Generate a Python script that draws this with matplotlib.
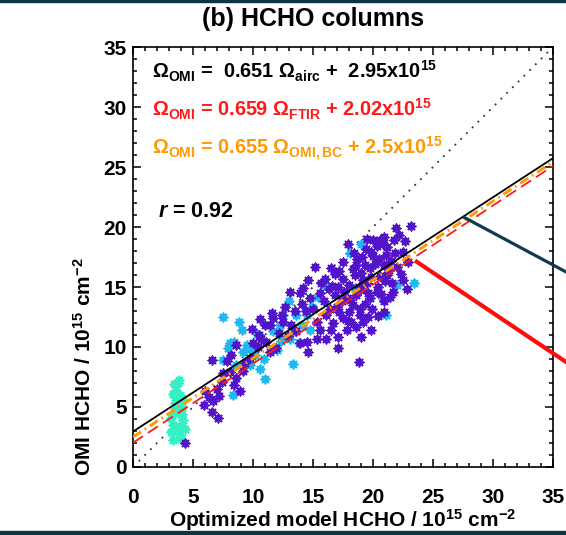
import numpy as np
import matplotlib
matplotlib.use("Agg")
import matplotlib.pyplot as plt
from matplotlib.ticker import MultipleLocator
from matplotlib.patches import Rectangle

plt.rcParams['font.family'] = ['Liberation Sans', 'DejaVu Sans']
plt.rcParams['font.weight'] = 'bold'
plt.rcParams['mathtext.fontset'] = 'custom'
plt.rcParams['mathtext.rm'] = 'Liberation Sans:bold'
plt.rcParams['mathtext.bf'] = 'Liberation Sans:bold'
plt.rcParams['mathtext.sf'] = 'Liberation Sans:bold'
plt.rcParams['mathtext.it'] = 'Liberation Sans:bold:italic'

# ---- HCHO columns (10^15 molec cm^-2): model (x) vs OMI (y) ----
purple_x = [23.2, 21.9, 20.9, 22.7, 21.75, 20.0, 19.4, 17.95, 19.1, 20.3, 21.1, 22.5, 22.9, 20.6,
            19.8, 20.5, 21.5, 22.0, 21.3, 20.2, 19.3, 18.7, 18.3, 19.0, 19.8, 20.6, 21.0, 22.3,
            22.5, 21.6, 20.4, 19.5, 18.5, 17.5, 18.6, 19.75, 20.9, 17.5, 17.1, 16.0, 16.5, 15.2,
            18.0, 18.8, 21.7, 22.8, 21.2, 22.2,
            16.8, 17.8, 18.6, 19.75, 20.9, 19.9, 18.9, 18.0, 17.5, 18.2, 19.2, 17.8, 16.7, 16.1,
            15.3, 17.0, 15.9, 14.75, 13.9, 13.1, 14.05, 12.7, 11.6, 11.4, 12.5, 13.2, 13.6, 17.4,
            18.3, 19.3, 20.3, 19.0, 17.6, 16.4, 15.6, 14.4, 20.4, 19.6, 18.6, 19.8, 16.3, 17.2,
            15.0, 14.2, 13.5, 16.8, 15.7, 14.6, 21.4, 20.9,
            14.5, 15.3, 16.1, 17.1, 17.05, 14.55, 18.97, 18.8, 10.7, 11.1, 10.4, 11.4, 9.75, 9.3,
            8.6, 8.2, 7.8, 6.55, 8.1, 8.6, 7.4, 8.9, 6.97, 6.7, 5.9, 6.55, 7.1, 6.0, 4.3, 10.0,
            10.5, 9.9, 11.0, 12.2, 12.9, 15.6, 16.5, 11.9, 9.2, 7.5, 8.4, 7.2, 6.3, 11.7, 12.4,
            10.6, 13.9,
            20.0, 21.2, 19.2, 18.1, 20.7, 21.8, 18.9, 17.2, 16.6, 19.5, 20.8, 18.4, 17.9, 19.6]
purple_y = [20.1, 19.9, 19.2, 18.8, 18.9, 18.9, 18.2, 18.55, 17.5, 18.4, 17.7, 17.9, 17.1, 18.9,
            17.9, 17.3, 17.2, 16.7, 16.4, 16.9, 16.8, 17.3, 16.5, 16.2, 15.8, 15.9, 15.5, 16.1,
            15.6, 15.3, 15.0, 15.3, 16.0, 17.1, 16.8, 16.55, 16.8, 15.7, 15.0, 15.7, 16.6, 16.7,
            15.2, 15.0, 14.6, 14.8, 18.3, 19.3,
            14.3, 14.05, 14.3, 14.05, 13.8, 13.2, 12.7, 12.9, 12.4, 12.1, 12.1, 11.4, 11.97, 12.7,
            12.1, 13.35, 13.8, 14.05, 14.5, 14.55, 13.56, 13.35, 12.8, 11.8, 12.1, 11.8, 11.3, 13.8,
            13.5, 13.6, 14.6, 14.8, 14.6, 13.2, 14.5, 13.0, 12.6, 12.5, 11.7, 11.4, 14.8, 12.9,
            13.2, 14.9, 13.0, 16.1, 15.3, 15.6, 14.2, 12.9,
            10.45, 10.7, 10.7, 10.86, 9.9, 9.6, 10.86, 8.78, 10.7, 10.45, 10.0, 9.6, 9.05, 8.65,
            10.2, 9.3, 8.8, 8.9, 7.9, 7.4, 7.1, 6.3, 6.5, 5.5, 5.2, 4.6, 4.1, 6.3, 1.98, 10.3,
            11.0, 11.5, 11.8, 11.2, 10.9, 11.4, 11.4, 9.9, 8.0, 7.8, 6.8, 5.9, 5.8, 12.4, 12.7,
            12.3, 10.3,
            17.6, 16.0, 15.6, 13.9, 14.4, 17.8, 13.2, 16.3, 15.1, 19.0, 18.6, 17.8, 12.2, 14.5]

cyan_x = [18.1, 19.0, 21.97, 23.4, 21.1, 16.0, 15.4, 13.6, 14.5, 14.05, 13.5, 13.1, 13.8, 14.75,
          12.5, 12.25, 11.7, 11.97, 13.3, 11.0, 7.5, 8.8, 9.05, 8.4, 7.9, 9.2, 9.9, 10.2, 7.5,
          10.6, 9.75, 8.6, 8.36, 10.3, 8.1, 9.5, 10.9, 12.3, 14.9, 13.0, 20.8, 18.5]
cyan_y = [17.8, 18.6, 15.2, 15.3, 12.7, 15.2, 14.2, 12.7, 12.7, 11.8, 11.3, 10.7, 10.3, 11.4,
          12.7, 11.8, 11.3, 9.75, 8.56, 7.3, 12.5, 12.1, 11.4, 10.44, 9.9, 9.6, 9.75, 9.3, 8.9,
          8.2, 8.5, 8.5, 6.0, 11.1, 10.3, 10.2, 9.0, 10.5, 13.3, 13.8, 14.0, 14.9]

green_x = [3.78, 3.6, 3.36, 3.9, 3.5, 4.05, 3.78, 3.2, 4.2, 3.6, 3.2, 3.9, 3.36, 4.0, 3.8, 3.5,
           4.1, 3.4, 3.9, 3.3, 3.7, 4.3, 3.6, 4.1, 3.4]
green_y = [7.0, 6.4, 6.1, 6.0, 5.3, 5.03, 4.5, 4.05, 3.9, 3.36, 2.95, 2.67, 2.25, 2.3, 7.25, 5.8,
           4.4, 4.6, 3.4, 3.5, 2.9, 3.2, 4.9, 5.7, 6.9]

# regression fits: OMI = slope * reference + intercept
fit_slopes = [0.651, 0.659, 0.655]
fit_intercepts = [2.95, 2.02, 2.5]
fit_refs = ['airc', 'FTIR', 'OMI,BC']
fit_int_labels = ['2.95', '2.02', '2.5']
r_value = 0.92

PURPLE = '#5214c8'
CYAN = '#1fb8f0'
GREEN = '#35f0c5'
RED = '#ff1a1a'
ORANGE = '#ff9900'
NAVY = '#0f3b4c'

W, H = 566, 535
fig = plt.figure(figsize=(W / 100, H / 100), dpi=100)
fig.patch.set_facecolor('white')

# thin dark frame strips at the top and bottom of the page
fig.add_artist(Rectangle((0, 1 - 2 / H), 1, 2 / H, transform=fig.transFigure,
                         color='#0b3545', zorder=0))
fig.add_artist(Rectangle((0, 0), 1, 4.5 / H, transform=fig.transFigure,
                         color='#0b3545', zorder=0))

ax = fig.add_axes([133 / W, 1 - 467 / H, 420 / W, 420 / H])
ax.set_xlim(0, 35)
ax.set_ylim(0, 35)

xs = np.array([0.0, 35.0])
ax.plot(xs, xs, color='#333333', lw=1.3, ls=(0, (1, 3.5)), zorder=1)


def star_points(x, y, color, z):
    """Thick asterisk symbol: a small filled square with eight short spikes."""
    ax.scatter(x, y, marker='s', s=14, color=color, linewidths=0, zorder=z)
    ax.scatter(x, y, marker=(8, 2, 0), s=36, color=color, linewidths=1.3, zorder=z)


star_points(green_x, green_y, GREEN, 2)
star_points(cyan_x, cyan_y, CYAN, 2)
star_points(purple_x, purple_y, PURPLE, 3)

styles = [dict(color='black', lw=1.3, ls='-'),
          dict(color=RED, lw=1.3, ls=(0, (6.6, 3.3))),
          dict(color=ORANGE, lw=2.1, ls=(0, (3.3, 1.5, 0.6, 1.5)))]
for slope, icpt, st in zip(fit_slopes, fit_intercepts, styles):
    ax.plot(xs, slope * xs + icpt, zorder=5, **st)

# callout strokes leaving the plot to the right
ax.plot([27.5, 37.5], [fit_slopes[0] * 27.5 + fit_intercepts[0], 15.5],
        color=NAVY, lw=2.3, clip_on=False, zorder=6, solid_capstyle='butt')
ax.plot([23.5, 37.5], [17.2, 7.8], color='#ff0d0d', lw=3.0, clip_on=False,
        zorder=6, solid_capstyle='butt')

eq_colors = ['black', RED, ORANGE]
eq_y = [32.4, 29.2, 26.0]
for i, (slope, ref, lab, c, y) in enumerate(zip(fit_slopes, fit_refs, fit_int_labels,
                                               eq_colors, eq_y)):
    gap = '  ' if i == 0 else ' '
    txt = ('\u03A9$_{\\mathrm{OMI}}$ =' + gap + f'{slope:.3f} \u03A9$_{{\\mathrm{{{ref}}}}}$ +'
           + gap + f'{lab}x10$^{{15}}$')
    ax.text(1.6, y, txt, color=c, fontsize=14.3, fontweight='bold', va='baseline', ha='left',
            zorder=7)
ax.text(2.1, 20.8, f'$r$ = {r_value:.2f}', color='black', fontsize=15.5,
        fontweight='bold', va='baseline', ha='left', zorder=7)

ax.xaxis.set_major_locator(MultipleLocator(5))
ax.yaxis.set_major_locator(MultipleLocator(5))
ax.xaxis.set_minor_locator(MultipleLocator(1))
ax.yaxis.set_minor_locator(MultipleLocator(1))
ax.tick_params(which='both', direction='in', top=True, right=True, width=1.1, colors='black')
ax.tick_params(which='major', length=6)
ax.tick_params(which='minor', length=3)
ax.tick_params(axis='x', which='major', pad=15, labelsize=15)
ax.tick_params(axis='y', which='major', pad=4.5, labelsize=15)
for lab in ax.get_xticklabels() + ax.get_yticklabels():
    lab.set_fontweight('bold')
for sp in ax.spines.values():
    sp.set_linewidth(1.2)

ax.set_xlabel('Optimized model HCHO / 10$^{15}$ cm$^{-2}$', fontsize=15, fontweight='bold')
ax.xaxis.set_label_coords(0.5, (467 - 527) / 420)
ax.xaxis.label.set_va('baseline')
ax.set_ylabel('OMI HCHO / 10$^{15}$ cm$^{-2}$', fontsize=15, fontweight='bold')
ax.yaxis.set_label_coords((84 - 133) / 420, 0.5)
ax.yaxis.label.set_ha('right')
ax.yaxis.label.set_va('center')

fig.text(313 / W, 1 - 19 / H, '(b) HCHO columns', fontsize=18, fontweight='bold',
         ha='center', va='center')

fig.savefig('out.png', dpi=100)
